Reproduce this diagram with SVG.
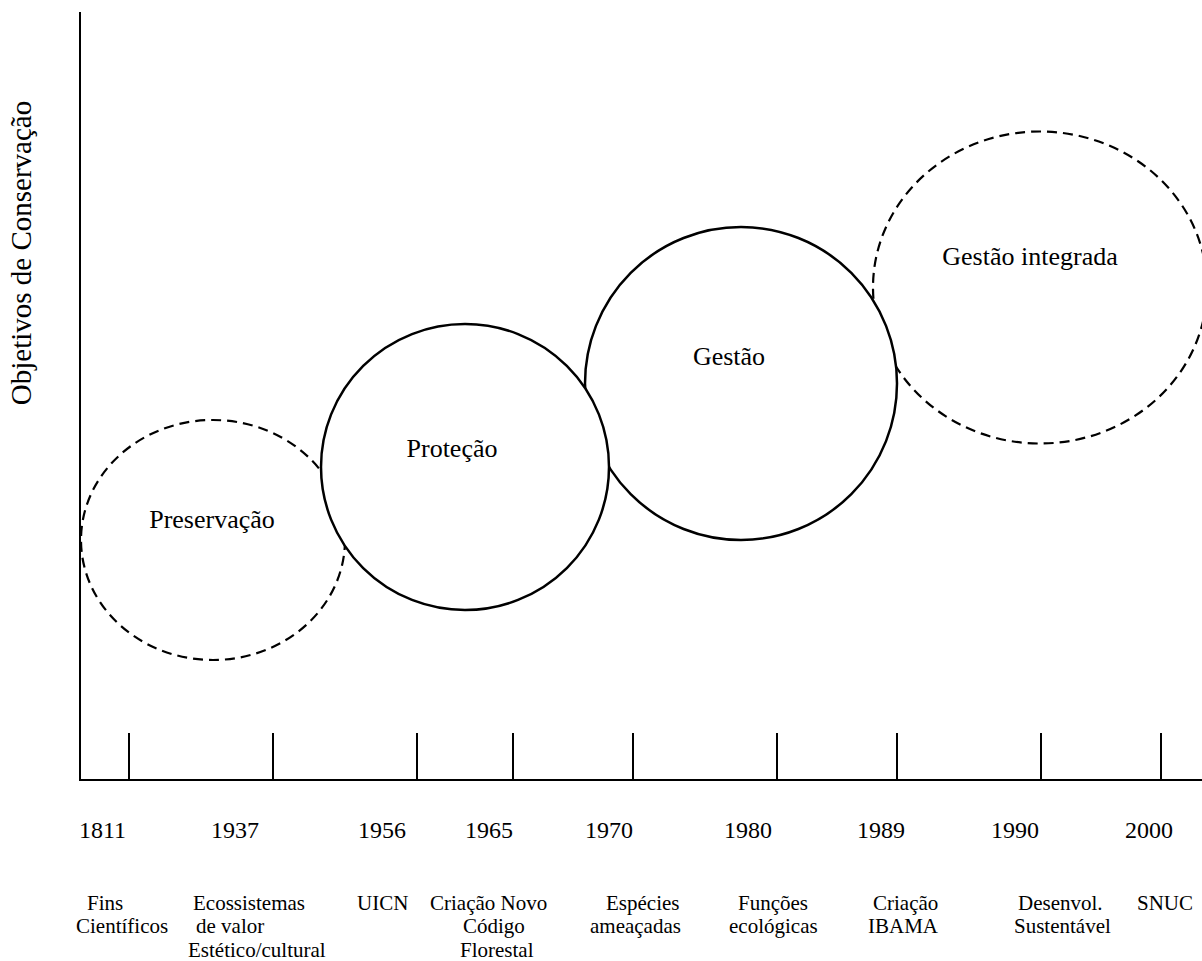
<svg xmlns="http://www.w3.org/2000/svg" width="1202" height="961" viewBox="0 0 1202 961">
<style>
text{font-family:"Liberation Serif","Times New Roman",serif;fill:#000}
.axis{stroke:#000;stroke-width:2;fill:none}
.solid{fill:#fff;stroke:#000;stroke-width:2.5}
.dash{fill:#fff;stroke:#000;stroke-width:2.2;stroke-dasharray:10 6}
.lbl{font-size:26px;text-anchor:middle}
.yr{font-size:24px}
.ev{font-size:21px}
</style>
<rect width="1202" height="961" fill="#fff"/>
<g id="axes">
<line class="axis" x1="80" y1="12" x2="80" y2="781"/>
<line class="axis" x1="79" y1="780" x2="1202" y2="780"/>
<path class="axis" d="M129 733V780M273 733V780M417 733V780M513 733V780M633 733V780M777 733V780M897 733V780M1041 733V780M1161 733V780"/>
</g>
<text transform="translate(31,253) rotate(-90)" font-size="29" text-anchor="middle">Objetivos de Conservação</text>
<g id="gestao-integrada"><ellipse class="dash" cx="1040" cy="287.5" rx="167" ry="156"/><text class="lbl" x="1030" y="265">Gestão integrada</text></g>
<g id="gestao"><ellipse class="solid" cx="741" cy="383.5" rx="156" ry="156.5"/><text class="lbl" x="729" y="365">Gestão</text></g>
<g id="preservacao"><ellipse class="dash" cx="213" cy="540" rx="132" ry="120"/><text class="lbl" x="212" y="528">Preservação</text></g>
<g id="protecao"><ellipse class="solid" cx="465" cy="467" rx="144" ry="143"/><text class="lbl" x="452" y="457">Proteção</text></g>
<g id="years" class="yr">
<text x="79" y="838">1811</text>
<text x="211" y="838">1937</text>
<text x="358" y="838">1956</text>
<text x="465" y="838">1965</text>
<text x="585" y="838">1970</text>
<text x="724" y="838">1980</text>
<text x="857" y="838">1989</text>
<text x="991" y="838">1990</text>
<text x="1125" y="838">2000</text>
</g>
<g id="events" class="ev">
<text x="87" y="910">Fins</text>
<text x="76" y="933">Científicos</text>
<text x="193" y="910">Ecossistemas</text>
<text x="196" y="933">de valor</text>
<text x="188" y="957">Estético/cultural</text>
<text x="357" y="910">UICN</text>
<text x="430" y="910">Criação Novo</text>
<text x="463" y="933">Código</text>
<text x="460" y="957">Florestal</text>
<text x="606" y="910">Espécies</text>
<text x="590" y="933">ameaçadas</text>
<text x="738" y="910">Funções</text>
<text x="729" y="933">ecológicas</text>
<text x="873" y="910">Criação</text>
<text x="868" y="933">IBAMA</text>
<text x="1018" y="910">Desenvol.</text>
<text x="1014" y="933">Sustentável</text>
<text x="1137" y="910">SNUC</text>
</g>
</svg>
